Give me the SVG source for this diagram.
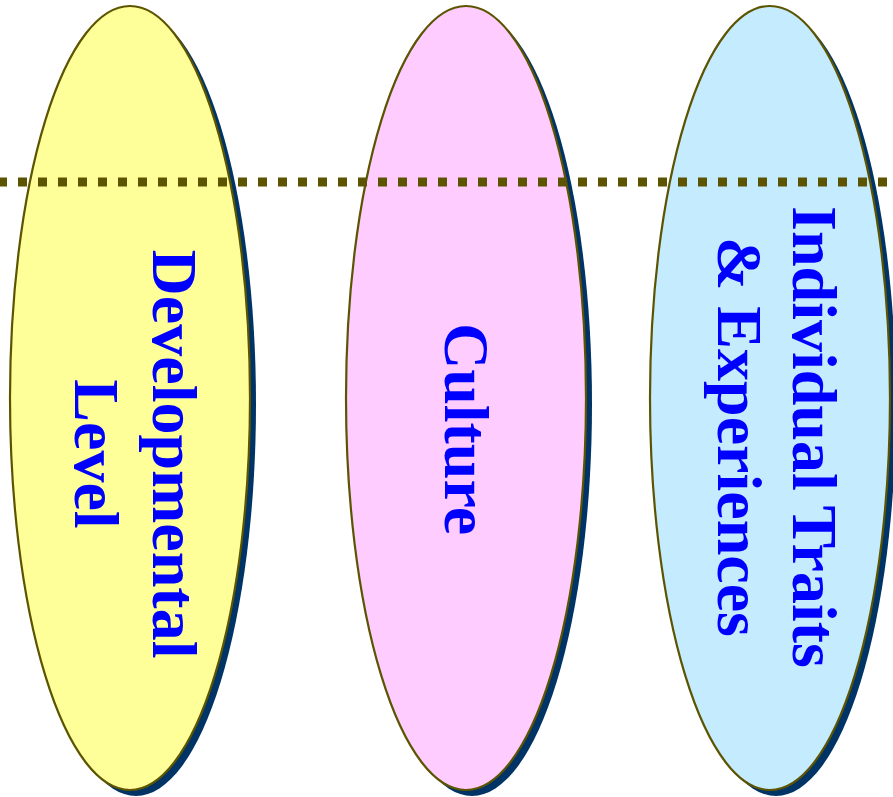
<svg xmlns="http://www.w3.org/2000/svg" width="893" height="797" viewBox="0 0 893 797">
  <style>
    .shadow { fill: #003366; }
    .oval { stroke: #5c5400; stroke-width: 2.2; }
    .label { font-family: "Liberation Serif", "Times New Roman", serif; font-weight: bold; font-size: 64px; fill: #0000ff; text-anchor: middle; }
    .divider { stroke: #5c5400; stroke-width: 9; stroke-dasharray: 9 11; stroke-dashoffset: 2; fill: none; }
  </style>
  <rect width="893" height="797" fill="#ffffff"/>

  <g id="developmental-level">
    <ellipse class="shadow" cx="136" cy="404" rx="120" ry="392"/>
    <ellipse class="oval" cx="130" cy="398" rx="120" ry="392" fill="#ffff99"/>
    <text class="label" transform="translate(153,454) rotate(90)">
      <tspan x="8" y="0">Developmental</tspan>
      <tspan x="0" y="78">Level</tspan>
    </text>
  </g>

  <g id="culture">
    <ellipse class="shadow" cx="472" cy="404" rx="120" ry="392"/>
    <ellipse class="oval" cx="466" cy="398" rx="120" ry="392" fill="#ffccff"/>
    <text class="label" transform="translate(445,429) rotate(90)">Culture</text>
  </g>

  <g id="individual-traits">
    <ellipse class="shadow" cx="776" cy="404" rx="120" ry="392"/>
    <ellipse class="oval" cx="770" cy="398" rx="120" ry="392" fill="#c5ebff"/>
    <text class="label" transform="translate(793,437) rotate(90)">
      <tspan x="8" y="0">Individual Traits</tspan>
      <tspan x="0" y="75">&amp; Experiences</tspan>
    </text>
  </g>

  <g id="connectors">
    <line class="divider" x1="0" y1="182" x2="893" y2="182"/>
  </g>
</svg>
